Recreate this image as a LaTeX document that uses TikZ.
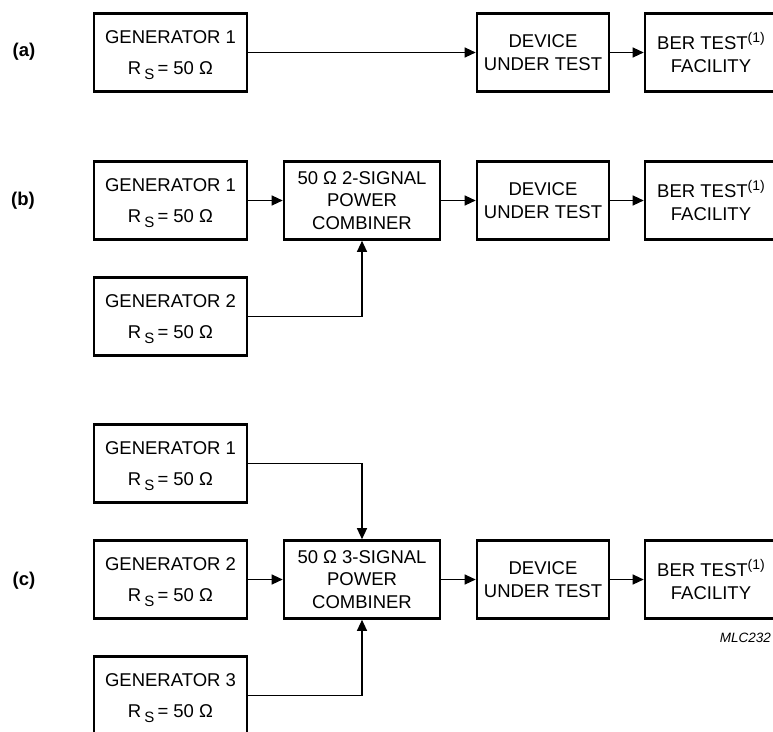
\documentclass[tikz,border=0pt]{standalone}
\usepackage{fontspec}
\setmainfont{Liberation Sans}
\usetikzlibrary{arrows.meta}

\newcommand{\rsfifty}{R\,\raisebox{-0.45ex}{\fontsize{15}{15}\selectfont S}\,= 50 Ω}
\newcommand{\bernote}{BER TEST\raisebox{0.75ex}{\fontsize{14}{14}\selectfont(1)}}

\begin{document}
\begin{tikzpicture}[x=1pt,y=-1pt,
    font=\fontsize{18.5}{22.5}\selectfont,
    blk/.style={draw,line width=2.6pt,inner sep=0pt,align=center,minimum height=78pt},
    genblk/.style={blk,minimum width=153pt,text depth=-5pt},
    dutblk/.style={blk,minimum width=132pt},
    combblk/.style={blk,minimum width=156pt},
    flow/.style={line width=1.2pt,-{Triangle[length=11pt,width=10pt]}},
    tag/.style={font=\bfseries\fontsize{18.5}{20}\selectfont}]
    \useasboundingbox (0,0) rectangle (773,731);
    % (a)
    \node at (24,52) [tag] (la) {(a)};
    \node at (170.5,52.5) [genblk] (g1a) {GENERATOR 1\\[9pt]\rsfifty};
    \node at (543,52.5) [dutblk] (duta) {DEVICE\\UNDER TEST};
    \node at (711,52.5) [dutblk] (bera) {\bernote\\FACILITY};
    \draw[flow] (g1a) -- (duta);
    \draw[flow] (duta) -- (bera);
    % (b)
    \node at (23,201) [tag] (lb) {(b)};
    \node at (170.5,200.5) [genblk] (g1b) {GENERATOR 1\\[9pt]\rsfifty};
    \node at (170.5,316.5) [genblk] (g2b) {GENERATOR 2\\[9pt]\rsfifty};
    \node at (362,200.5) [combblk] (combb) {50 Ω 2-SIGNAL\\POWER\\COMBINER};
    \node at (543,200.5) [dutblk] (dutb) {DEVICE\\UNDER TEST};
    \node at (711,200.5) [dutblk] (berb) {\bernote\\FACILITY};
    \draw[flow] (g1b) -- (combb);
    \draw[flow] (g2b.east) -| (combb.south);
    \draw[flow] (combb) -- (dutb);
    \draw[flow] (dutb) -- (berb);
    % (c)
    \node at (24,581) [tag] (lc) {(c)};
    \node at (170.5,463.5) [genblk] (g1c) {GENERATOR 1\\[9pt]\rsfifty};
    \node at (170.5,579.5) [genblk] (g2c) {GENERATOR 2\\[9pt]\rsfifty};
    \node at (170.5,695.5) [genblk] (g3c) {GENERATOR 3\\[9pt]\rsfifty};
    \node at (362,579.5) [combblk] (combc) {50 Ω 3-SIGNAL\\POWER\\COMBINER};
    \node at (543,579.5) [dutblk] (dutc) {DEVICE\\UNDER TEST};
    \node at (711,579.5) [dutblk] (berc) {\bernote\\FACILITY};
    \draw[flow] (g1c.east) -| (combc.north);
    \draw[flow] (g2c) -- (combc);
    \draw[flow] (g3c.east) -| (combc.south);
    \draw[flow] (combc) -- (dutc);
    \draw[flow] (dutc) -- (berc);
    \node at (772,638) [anchor=east,inner sep=1pt,font=\itshape\fontsize{13.5}{15}\selectfont] (ref) {MLC232};
\end{tikzpicture}
\end{document}
